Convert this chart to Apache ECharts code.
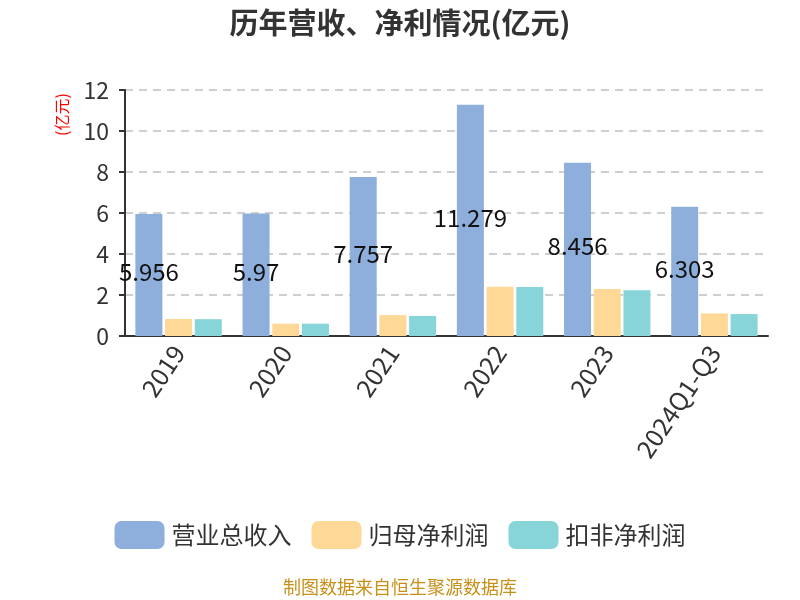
<!DOCTYPE html>
<html><head><meta charset="utf-8">
<script src="https://cdn.jsdelivr.net/npm/echarts@6/dist/echarts.min.js"></script>
<style>html,body{margin:0;padding:0;background:#fff}#c{width:800px;height:600px}</style>
</head><body><div id="c"></div>
<script>
const categories = ['2019','2020','2021','2022','2023','2024Q1-Q3'];
const revenue = [5.956, 5.97, 7.757, 11.279, 8.456, 6.303];
const netProfit = [0.83, 0.60, 1.02, 2.40, 2.29, 1.10];
const deductedProfit = [0.82, 0.60, 0.98, 2.39, 2.23, 1.07];
const yTicks = [0, 2, 4, 6, 8, 10, 12];

const chart = echarts.init(document.getElementById('c'));
const font = '"Noto Sans CJK SC","Noto Sans",sans-serif';
chart.setOption({
  textStyle:{fontFamily:font},
  title:{text:'历年营收、净利情况(亿元)',left:'center',top:3,textStyle:{fontSize:29,fontWeight:'bold',color:'#333',fontFamily:font}},
  graphic:[
    {type:'text',left:'center',top:578,style:{text:'制图数据来自恒生聚源数据库',fill:'#c8901a',font:'18px '+font}},
    {type:'text',x:54,y:136,rotation:Math.PI/2,style:{text:'(亿元)',fill:'#ff0000',font:'16px '+font}}
  ],
  legend:{bottom:46,itemWidth:50,itemHeight:28,itemGap:20,textStyle:{fontSize:24,color:'#333',padding:[0,0,0,2]},data:['营业总收入','归母净利润','扣非净利润']},
  grid:{left:125,right:32,top:90,bottom:264},
  xAxis:{type:'category',data:categories,axisLine:{lineStyle:{color:'#333',width:2}},axisTick:{length:7,lineStyle:{color:'#333',width:2}},axisLabel:{rotate:56,fontSize:25,color:'#333',margin:12}},
  yAxis:{type:'value',min:yTicks[0],max:yTicks[yTicks.length-1],interval:2,
    axisLine:{show:true,lineStyle:{color:'#333',width:2}},axisTick:{show:true,length:6,lineStyle:{color:'#333',width:2}},
    axisLabel:{fontSize:23,color:'#333',margin:16},splitLine:{lineStyle:{type:[8,6],color:'#c0c0c0',width:1.5}}},
  series:[
    {name:'营业总收入',type:'bar',data:revenue,barWidth:27,barGap:'10%',itemStyle:{color:'#8eaedb'},
     label:{show:true,position:'inside',color:'#111',fontSize:24,offset:[0,-3]}},
    {name:'归母净利润',type:'bar',data:netProfit,barWidth:27,barGap:'10%',itemStyle:{color:'#fed897'}},
    {name:'扣非净利润',type:'bar',data:deductedProfit,barWidth:27,barGap:'10%',itemStyle:{color:'#88d5d9'}}
  ]
});
</script></body></html>
